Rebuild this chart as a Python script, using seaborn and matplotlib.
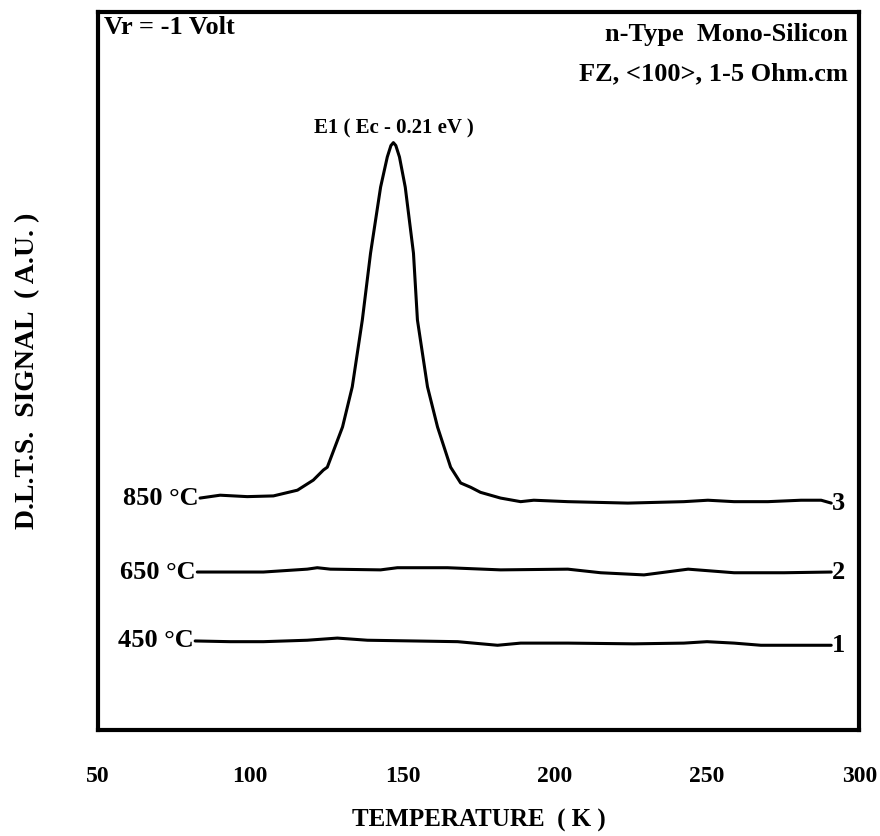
import matplotlib
matplotlib.use("Agg")
import matplotlib.pyplot as plt
import seaborn as sns
import pandas as pd

# DLTS spectra (temperature in K, signal in arbitrary units)
temp_850 = [83.5, 90.1, 99.0, 107.6, 115.5, 120.7, 124.0, 125.3, 130.3, 133.5,
            136.8, 139.5, 142.8, 145.0, 146.2, 147.0, 147.8, 149.0, 150.9, 153.6,
            154.9, 158.2, 161.5, 165.8, 169.1, 172.4, 175.6, 182.2, 188.8, 193.1,
            204.3, 224.0, 242.4, 250.3, 258.9, 270.0, 280.9, 287.5, 290.8]
sig_850 = [32.3, 32.7, 32.5, 32.6, 33.4, 34.8, 36.2, 36.6, 42.2, 47.8,
           57.1, 66.4, 75.6, 79.8, 81.4, 81.8, 81.4, 79.8, 75.6, 66.4,
           57.1, 47.8, 42.2, 36.6, 34.4, 33.8, 33.1, 32.3, 31.8, 32.0,
           31.8, 31.6, 31.8, 32.0, 31.8, 31.8, 32.0, 32.0, 31.6]

temp_650 = [82.6, 93.4, 104.3, 118.7, 122.0, 126.3, 142.8, 148.3, 164.8, 182.2,
            204.3, 215.1, 229.3, 243.8, 258.9, 275.3, 290.8]
sig_650 = [22.0, 22.0, 22.0, 22.4, 22.6, 22.4, 22.3, 22.6, 22.6, 22.3,
           22.4, 21.9, 21.6, 22.4, 21.9, 21.9, 22.0]

temp_450 = [81.9, 93.4, 104.3, 118.7, 128.6, 138.5, 153.6, 168.1, 181.2, 188.8,
            204.3, 226.0, 242.4, 250.0, 258.9, 267.7, 290.8]
sig_450 = [12.4, 12.3, 12.3, 12.5, 12.8, 12.5, 12.4, 12.3, 11.8, 12.1,
           12.1, 12.0, 12.1, 12.3, 12.1, 11.8, 11.8]

anneal_labels = ["450 °C", "650 °C", "850 °C"]
curve_numbers = ["1", "2", "3"]
x_ticks = [50, 100, 150, 200, 250, 300]

frames = []
for name, t, s in [("450", temp_450, sig_450), ("650", temp_650, sig_650),
                   ("850", temp_850, sig_850)]:
    frames.append(pd.DataFrame({"T": t, "signal": s, "anneal": name}))
df = pd.concat(frames, ignore_index=True)

sns.set_style("white")
plt.rcParams["font.family"] = ["Liberation Serif", "DejaVu Serif"]
plt.rcParams["font.weight"] = "bold"
plt.rcParams["text.color"] = "black"
plt.rcParams["axes.labelcolor"] = "black"
plt.rcParams["xtick.color"] = "black"

fig = plt.figure(figsize=(8.8, 8.36), dpi=100)
ax = fig.add_axes([0.1114, 0.1268, 0.865, 0.8589])

sns.lineplot(data=df, x="T", y="signal", units="anneal", estimator=None,
             sort=False, color="black", linewidth=2.2, ax=ax)

ax.set_xlim(50, 300)
ax.set_ylim(0, 100)
ax.set_xticks(x_ticks)
ax.set_xticklabels([str(v) for v in x_ticks], fontsize=17, fontweight="bold")
ax.set_yticks([])
ax.tick_params(axis="x", direction="in", length=8, width=2, pad=26)

for sp in ax.spines.values():
    sp.set_visible(True)
    sp.set_linewidth(3)
    sp.set_color("black")

ax.set_xlabel("TEMPERATURE  ( K )", fontsize=18, fontweight="bold", labelpad=16)
ax.set_ylabel("D.L.T.S.  SIGNAL  ( A.U. )", fontsize=20, fontweight="bold",
              labelpad=42)

# curve labels
for lab, num, t, s in zip(anneal_labels, curve_numbers,
                          [temp_450, temp_650, temp_850],
                          [sig_450, sig_650, sig_850]):
    ax.text(t[0] - 0.5, s[0], lab, ha="right", va="center", fontsize=19,
            fontweight="bold")
    ax.text(t[-1] + 0.3, s[-1], num, ha="left", va="center", fontsize=19,
            fontweight="bold")

ax.text(0.008, 0.995, "Vr = -1 Volt", transform=ax.transAxes, ha="left",
        va="top", fontsize=19, fontweight="bold")
ax.text(0.985, 0.985, "n-Type  Mono-Silicon", transform=ax.transAxes,
        ha="right", va="top", fontsize=19, fontweight="bold")
ax.text(0.985, 0.930, "FZ, <100>, 1-5 Ohm.cm", transform=ax.transAxes,
        ha="right", va="top", fontsize=19, fontweight="bold")
ax.text(147, 82.4, "E1 ( Ec - 0.21 eV )", ha="center", va="bottom",
        fontsize=15, fontweight="bold")

fig.savefig("out.png", dpi=100)
